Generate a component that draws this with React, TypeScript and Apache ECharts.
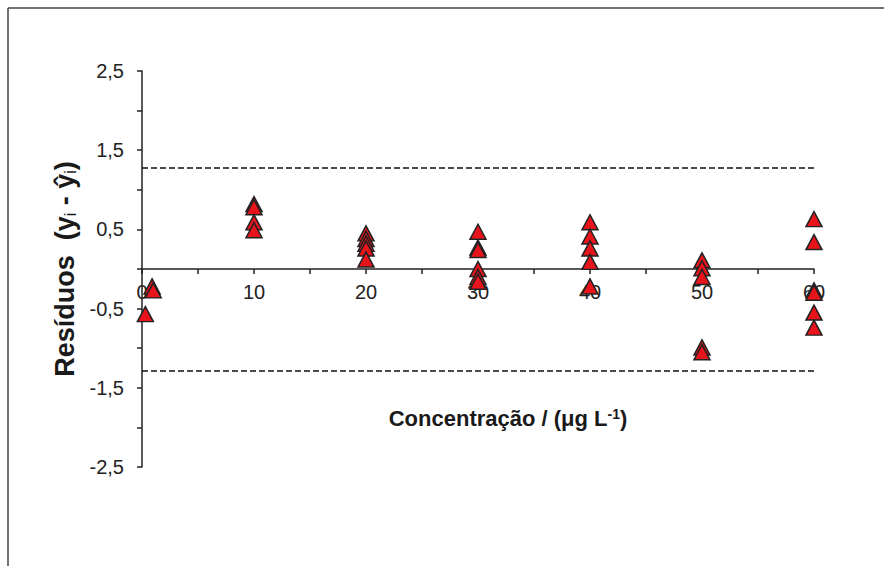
import React, { useEffect, useRef } from 'react';
import * as echarts from 'echarts';

// Concentration (µg L-1) of each replicate and its residual (yi - ŷi)
const concentration = [
  0.3, 0.9, 1.0,
  10, 10, 10, 10,
  20, 20, 20, 20, 20,
  30, 30, 30, 30, 30, 30,
  40, 40, 40, 40, 40,
  50, 50, 50, 50, 50,
  60, 60, 60, 60, 60, 60,
];
const residual = [
  -0.57, -0.22, -0.27,
  0.82, 0.78, 0.59, 0.49,
  0.45, 0.38, 0.32, 0.26, 0.12,
  0.47, 0.27, 0.24, 0.0, -0.1, -0.16,
  0.59, 0.41, 0.26, 0.09, -0.22,
  0.11, 0.01, -0.1, -0.99, -1.05,
  0.63, 0.34, -0.27, -0.3, -0.55, -0.74,
];
// Dashed control limits
const limits = [1.28, -1.28];

const xMin = 0;
const xMax = 60;
const yMin = -2.5;
const yMax = 2.5;

const GRID_TOP = 71;
const GRID_H = 396;

const FONT = "Arial, 'Liberation Sans', Helvetica, sans-serif";

export default function App() {
  const ref = useRef<HTMLDivElement>(null);

  useEffect(() => {
    document.body.style.margin = '0';
    document.body.style.overflow = 'hidden';
    if (!ref.current) return;
    const chart = echarts.init(ref.current, null, { renderer: 'svg' });
    const data = concentration.map((c, i) => [c, residual[i]]);
    // x axis crosses the y axis at residual 0
    const zeroOffset = -GRID_H * ((0 - yMin) / (yMax - yMin));
    chart.setOption({
      animation: false,
      backgroundColor: '#ffffff',
      textStyle: { fontFamily: FONT },
      grid: { left: 142, top: GRID_TOP, width: 672, height: GRID_H, containLabel: false, outerBoundsMode: 'none' },
      graphic: [
        {
          type: 'line',
          shape: { x1: 8, y1: 8, x2: 8, y2: 566 },
          style: { stroke: '#444', lineWidth: 1.5 },
        },
        {
          type: 'line',
          shape: { x1: 8, y1: 8, x2: 884, y2: 8 },
          style: { stroke: '#444', lineWidth: 1.5 },
        },
      ],
      xAxis: {
        type: 'value',
        min: xMin,
        max: xMax,
        interval: 5,
        position: 'bottom',
        offset: zeroOffset,
        name: 'Concentração / (μg L{sup|-1})',
        nameLocation: 'middle',
        nameGap: 138,
        nameTextStyle: {
          fontFamily: FONT,
          fontWeight: 'bold',
          fontSize: 22,
          color: '#1a1a1a',
          padding: [0, 0, 0, 60],
          rich: {
            sup: {
              fontFamily: FONT,
              fontWeight: 'bold',
              fontSize: 14,
              color: '#1a1a1a',
              verticalAlign: 'top',
              padding: [0, 0, 8, 0],
            },
          },
        },
        axisLine: { show: true, onZero: false, lineStyle: { color: '#222', width: 1.5 } },
        axisTick: { show: true, length: 5, inside: false, lineStyle: { color: '#222', width: 1.5 } },
        axisLabel: {
          fontFamily: FONT,
          fontSize: 20,
          color: '#222',
          margin: 13,
          formatter: (v: number) => (v % 10 === 0 ? String(v) : ''),
        },
        splitLine: { show: false },
      },
      yAxis: {
        type: 'value',
        min: yMin,
        max: yMax,
        interval: 0.5,
        name: 'Resíduos  (y{sub|i} - ŷ{sub|i})',
        nameLocation: 'middle',
        nameGap: 60,
        nameRotate: 90,
        nameTextStyle: {
          fontFamily: FONT,
          fontWeight: 'bold',
          fontSize: 27,
          color: '#1a1a1a',
          rich: {
            sub: {
              fontFamily: FONT,
              fontWeight: 'normal',
              fontSize: 16,
              color: '#1a1a1a',
              verticalAlign: 'bottom',
              padding: [10, 0, 0, 0],
            },
          },
        },
        axisLine: { show: true, onZero: false, lineStyle: { color: '#222', width: 1.5 } },
        axisTick: { show: true, length: 5, inside: false, lineStyle: { color: '#222', width: 1.5 } },
        axisLabel: {
          fontFamily: FONT,
          fontSize: 20,
          color: '#222',
          margin: 18,
          formatter: (v: number) => {
            const r = Math.round(v * 10) / 10;
            return Math.abs(r % 1) > 0.01 ? String(r).replace('.', ',') : '';
          },
        },
        splitLine: { show: false },
      },
      series: [
        {
          type: 'scatter',
          data,
          symbol: 'triangle',
          symbolSize: [16, 15],
          itemStyle: { color: '#e8141c', borderColor: '#222', borderWidth: 1.5, opacity: 1 },
          z: 5,
          markLine: {
            silent: true,
            symbol: 'none',
            label: { show: false },
            lineStyle: { color: '#111', width: 1.5, type: [6, 3] },
            data: limits.map((v) => ({ yAxis: v })),
          },
        },
      ],
    });
    return () => chart.dispose();
  }, []);

  return <div ref={ref} style={{ width: 884, height: 566 }} />;
}
